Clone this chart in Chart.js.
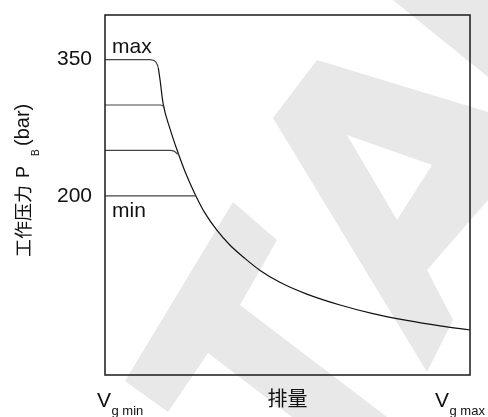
<!DOCTYPE html>
<html>
<head>
<meta charset="utf-8">
<script src="https://cdn.jsdelivr.net/npm/chart.js@4/dist/chart.umd.min.js"></script>
<style>
  html, body { margin: 0; padding: 0; background: #fff; }
  #wrap { width: 488px; height: 417px; }
</style>
</head>
<body>
<div id="wrap"><canvas id="chart" width="488" height="417"></canvas></div>
<script>
// Displacement axis runs from Vg min (0) to Vg max (100); pressure in bar.
const levelNames = ['max', '', '', 'min'];

// Pressure cut-off settings: flat level plus the rounded knee into the power curve
const level350X = [0, 12.3, 13.2, 13.9, 14.3, 14.6];
const level350P = [350, 350, 349.3, 347.5, 344.5, 341];
const level300X = [0, 15.2, 15.8, 16.2];
const level300P = [300, 300, 299.3, 297];
const level250X = [0, 17.8, 18.9, 19.6, 20.2];
const level250P = [250, 250, 249.3, 247, 245.5];
const level200X = [0, 24.9];
const level200P = [200, 200];

// Constant-power (hyperbolic) limit
const powerCurveX = [14.6, 15.1, 15.9, 17.8, 19.7, 22.2, 24.9, 27.4, 30.7, 34.2, 38.4, 42.5, 47.9, 55.3, 64.4, 73.4, 82.7, 91.8, 100];
const powerCurveP = [341, 327, 302, 274, 251, 224, 200, 181, 162, 146, 131, 118, 105, 92, 80, 70.5, 63, 57, 52.5];

const pressureTicks = [200, 350];

const LATIN = "'Liberation Sans', Arial, 'Noto Sans CJK SC', sans-serif";
const INK = '#111';

function pairs(xs, ys) {
  return xs.map((x, i) => ({ x: x, y: ys[i] }));
}

function lineSet(xs, ys, color) {
  return {
    data: pairs(xs, ys),
    showLine: true,
    borderColor: color,
    borderWidth: 1.2,
    pointRadius: 0,
    cubicInterpolationMode: 'monotone',
    fill: false
  };
}

// Light grey backdrop shapes behind the plot
const backdropShapes = [
  [[[393, 0], [488, 0], [488, 77]]],
  [[[317, 60], [488, 112], [488, 200], [427, 270], [453, 320], [427, 372], [273, 118]],
   [[347, 135], [432, 165], [397, 220]]],
  [[[233, 202], [277, 240], [240, 305], [387, 417], [292, 417], [208, 353], [168, 412], [125, 381]]]
];

const backdrop = {
  id: 'backdrop',
  beforeDraw(chart) {
    const ctx = chart.ctx;
    ctx.save();
    ctx.fillStyle = '#fff';
    ctx.fillRect(0, 0, chart.width, chart.height);
    ctx.fillStyle = '#e8e8e8';
    backdropShapes.forEach(shape => {
      ctx.beginPath();
      shape.forEach(ring => {
        ring.forEach((p, i) => (i ? ctx.lineTo(p[0], p[1]) : ctx.moveTo(p[0], p[1])));
        ctx.closePath();
      });
      ctx.fill('evenodd');
    });
    ctx.restore();
  }
};

function subscripted(ctx, x, y, main, sub, mainSize, subSize, subDrop) {
  ctx.font = mainSize + 'px ' + LATIN;
  ctx.fillText(main, x, y);
  const w = ctx.measureText(main).width;
  ctx.font = subSize + 'px ' + LATIN;
  ctx.fillText(sub, x + w + 0.5, y + subDrop);
}

const annotations = {
  id: 'annotations',
  afterDraw(chart) {
    const ctx = chart.ctx;
    const a = chart.chartArea;
    const ys = chart.scales.y;
    ctx.save();

    // plot frame
    ctx.strokeStyle = '#1a1a1a';
    ctx.lineWidth = 1.5;
    ctx.strokeRect(a.left, a.top, a.right - a.left, a.bottom - a.top);

    ctx.fillStyle = INK;
    ctx.textBaseline = 'alphabetic';
    ctx.textAlign = 'left';

    // level names
    ctx.font = '21px ' + LATIN;
    ctx.fillText(levelNames[0], a.left + 7, ys.getPixelForValue(350) - 7);
    ctx.fillText(levelNames[3], a.left + 7, ys.getPixelForValue(200) + 21);

    // displacement end labels
    subscripted(ctx, a.left - 8, a.bottom + 32, 'V', 'g min', 21, 13, 8);
    subscripted(ctx, a.right - 35, a.bottom + 32, 'V', 'g max', 21, 13, 8);

    // pressure axis title
    ctx.translate(28.5, 257);
    ctx.rotate(-Math.PI / 2);
    ctx.font = "18px 'Noto Sans CJK SC', sans-serif";
    ctx.fillText('工作压力', 0, 1);
    ctx.font = '18px ' + LATIN;
    ctx.fillText('P', 79, 0);
    ctx.font = '10px ' + LATIN;
    ctx.fillText('B', 101, 10);
    ctx.font = '20px ' + LATIN;
    ctx.fillText('(bar)', 111, 0);

    ctx.restore();
  }
};

new Chart(document.getElementById('chart'), {
  type: 'scatter',
  data: {
    datasets: [
      lineSet(level350X, level350P, '#444'),
      lineSet(level300X, level300P, '#444'),
      lineSet(level250X, level250P, '#444'),
      lineSet(level200X, level200P, '#444'),
      lineSet(powerCurveX, powerCurveP, '#111')
    ]
  },
  options: {
    responsive: false,
    animation: false,
    devicePixelRatio: 1,
    layout: { padding: { left: 0, right: 18, top: 15, bottom: 0 } },
    plugins: { legend: { display: false }, tooltip: { enabled: false } },
    scales: {
      x: {
        type: 'linear',
        min: 0,
        max: 100,
        grid: { display: false, drawTicks: false },
        border: { display: false },
        ticks: { display: false },
        title: {
          display: true,
          text: '排量',
          color: INK,
          font: { family: LATIN, size: 20 },
          padding: { top: 0, bottom: 5 }
        },
        afterFit(s) { s.height = 42; s.paddingLeft = 0; s.paddingRight = 0; }
      },
      y: {
        type: 'linear',
        min: 3,
        max: 399,
        grid: { display: false, drawTicks: false },
        border: { display: false },
        afterBuildTicks(s) { s.ticks = pressureTicks.map(v => ({ value: v })); },
        ticks: {
          color: INK,
          padding: 13,
          font: { family: LATIN, size: 21 }
        },
        afterFit(s) { s.width = 105; s.paddingTop = 0; s.paddingBottom = 0; }
      }
    }
  },
  plugins: [backdrop, annotations]
});
</script>
</body>
</html>
